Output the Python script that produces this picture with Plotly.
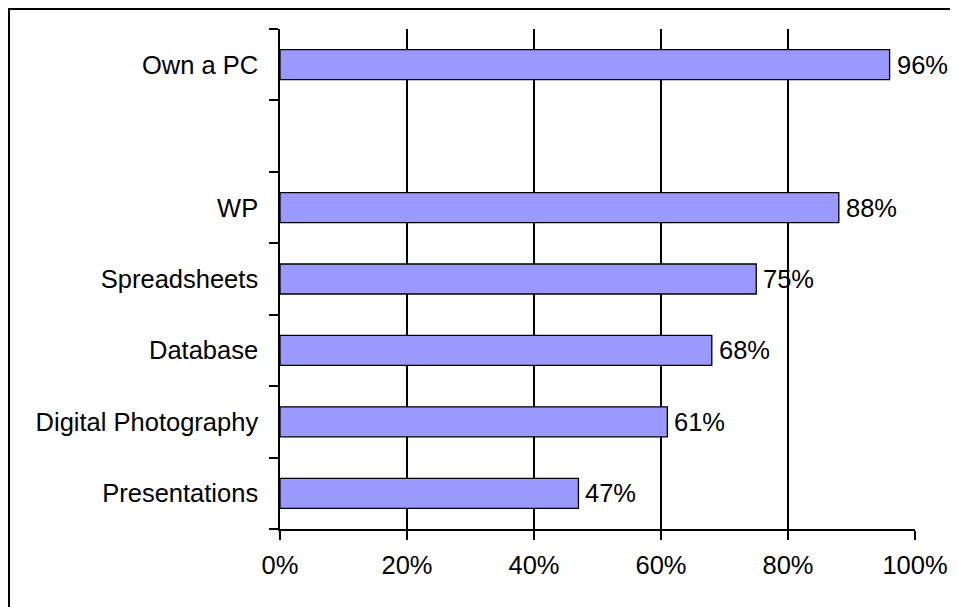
import plotly.graph_objects as go

# Data (top to bottom in the picture; blank row between "Own a PC" and "WP")
categories = ["Own a PC", " ", "WP", "Spreadsheets", "Database", "Digital Photography", "Presentations"]
values = [0.96, None, 0.88, 0.75, 0.68, 0.61, 0.47]
x_ticks = [0, 0.2, 0.4, 0.6, 0.8, 1.0]

W, H = 958, 607
# page body has an 8px margin, so figure pixel = reference pixel - 8
L, R, T, B = 272, 51, 21, 86
pw, ph = W - L - R, H - T - B

cats_bottom_up = categories[::-1]
vals_bottom_up = values[::-1]

FONT = "Arial, Liberation Sans, sans-serif"
FS = 25.5

fig = go.Figure()
fig.add_trace(go.Bar(
    y=cats_bottom_up,
    x=vals_bottom_up,
    orientation="h",
    width=0.42,
    marker=dict(color="#9999FF", line=dict(color="black", width=1.3)),
    hoverinfo="skip",
))

annotations = []
for c, v in zip(cats_bottom_up, vals_bottom_up):
    if v is None:
        continue
    annotations.append(dict(
        x=v, y=c, xref="x", yref="y",
        text=f"{round(v*100)}%", showarrow=False,
        xanchor="left", yanchor="middle", xshift=5,
        font=dict(family=FONT, size=FS, color="black"),
    ))

def px_to_paper_x(px):
    return (px - L) / pw

def px_to_paper_y(py):
    return (H - B - py) / ph

fig.update_layout(
    width=W, height=H,
    margin=dict(l=L, r=R, t=T, b=B, pad=0),
    paper_bgcolor="white",
    plot_bgcolor="white",
    showlegend=False,
    font=dict(family=FONT, size=FS, color="black"),
    annotations=annotations,
    shapes=[dict(
        type="rect", xref="paper", yref="paper",
        x0=px_to_paper_x(1), x1=px_to_paper_x(W + 10),
        y0=px_to_paper_y(H + 10), y1=px_to_paper_y(1),
        line=dict(color="black", width=2), fillcolor="rgba(0,0,0,0)", layer="below",
    )],
    xaxis=dict(
        range=[0, 1],
        tickvals=x_ticks,
        tickformat=".0%",
        showgrid=True, gridcolor="black", gridwidth=1.5,
        showline=True, linecolor="black", linewidth=1.5,
        ticks="outside", ticklen=9, tickcolor="black", tickwidth=1.5,
        ticklabelstandoff=4,
        zeroline=False,
        tickfont=dict(family=FONT, size=FS, color="black"),
        fixedrange=True,
    ),
    yaxis=dict(
        type="category",
        categoryorder="array", categoryarray=cats_bottom_up,
        range=[-0.5, 6.5],
        tickson="boundaries",
        showgrid=False,
        showline=True, linecolor="black", linewidth=1.5,
        ticks="outside", ticklen=9, tickcolor="black", tickwidth=1.5,
        ticklabelstandoff=15,
        tickfont=dict(family=FONT, size=FS, color="black"),
        fixedrange=True,
    ),
)

fig.write_html("out.html")
